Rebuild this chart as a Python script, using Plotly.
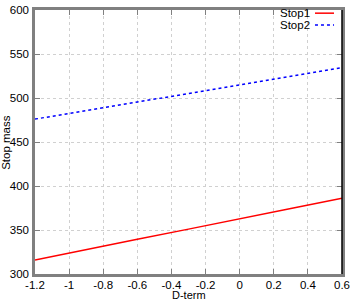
import plotly.graph_objects as go

d_term = [-1.2, -0.9, -0.6, -0.3, 0.0, 0.3, 0.6]
stop1 = [316, 328, 339.5, 351, 363, 374.5, 386]
stop2 = [476, 486, 495.5, 505, 515, 524.5, 534.5]

x_ticks = [-1.2, -1, -0.8, -0.6, -0.4, -0.2, 0, 0.2, 0.4, 0.6]
x_tick_labels = ["-1.2", "-1", "-0.8", "-0.6", "-0.4", "-0.2", "0", "0.2", "0.4", "0.6"]
y_ticks = [300, 350, 400, 450, 500, 550, 600]

FONT = "Liberation Sans Narrow, Liberation Sans, Arial"

fig = go.Figure()
fig.add_trace(go.Scatter(x=d_term, y=stop1, mode="lines", name="Stop1",
                         line=dict(color="#ff0000", width=1.5)))
fig.add_trace(go.Scatter(x=d_term, y=stop2, mode="lines", name="Stop2",
                         line=dict(color="#0000ff", width=1.5, dash="dot")))

axis_common = dict(showline=True, linecolor="#808080", linewidth=2.5, mirror="allticks",
                   ticks="inside", ticklen=5, tickcolor="#808080", tickwidth=1,
                   showgrid=True, gridcolor="#d0d0d0", griddash="dot", gridwidth=1,
                   zeroline=False, automargin=False,
                   tickfont=dict(family=FONT, size=11.5, color="black"))

fig.update_xaxes(range=[-1.2, 0.6], tickvals=x_ticks, ticktext=x_tick_labels,
                 ticklabelstandoff=-2, **axis_common)
fig.update_yaxes(range=[300, 600], tickvals=y_ticks,
                 ticklabelstandoff=1, **axis_common)

# axis titles
fig.add_annotation(xref="paper", yref="paper", x=0.5, y=-0.078, text="D-term",
                   showarrow=False, xanchor="center", yanchor="middle",
                   font=dict(family=FONT, size=11, color="black"))
fig.add_annotation(xref="paper", yref="paper", x=-0.095, y=0.5, text="Stop mass",
                   showarrow=False, xanchor="center", yanchor="middle", textangle=-90,
                   font=dict(family=FONT, size=11.5, color="black"))

# right border in black
fig.add_shape(type="line", xref="paper", yref="paper", x0=1, x1=1, y0=0, y1=1,
              line=dict(color="black", width=1.5))

# gnuplot-style legend (text then sample)
for i, (name, color, dash) in enumerate([("Stop1", "#ff0000", "solid"), ("Stop2", "#0000ff", "dot")]):
    yy = 0.988 - i * 0.045
    fig.add_annotation(xref="paper", yref="paper", x=0.902, y=yy, text=name,
                       showarrow=False, xanchor="right", yanchor="middle",
                       font=dict(family=FONT, size=11.5, color="black"))
    fig.add_shape(type="line", xref="paper", yref="paper", x0=0.912, x1=0.974, y0=yy, y1=yy,
                  line=dict(color=color, width=1.5, dash=dash))

fig.update_layout(width=354, height=300, margin=dict(l=35, r=12, t=10, b=26),
                  plot_bgcolor="white", paper_bgcolor="white", showlegend=False,
                  font=dict(family=FONT, size=12, color="black"))

fig.write_html("out.html", config={"displayModeBar": False},
               post_script="document.body.style.margin='0';document.body.style.padding='0';")
